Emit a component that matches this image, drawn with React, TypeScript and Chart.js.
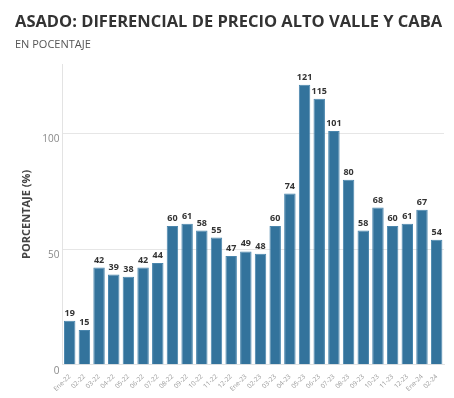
import React, { useEffect, useRef } from "react";
import { Chart, registerables } from "chart.js";

Chart.register(...registerables);

const categories = [
  "Ene-22", "02-22", "03-22", "04-22", "05-22", "06-22", "07-22", "08-22", "09-22", "10-22", "11-22", "12-22",
  "Ene-23", "02-23", "03-23", "04-23", "05-23", "06-23", "07-23", "08-23", "09-23", "10-23", "11-23", "12-23",
  "Ene-24", "02-24",
];
const values = [19, 15, 42, 39, 38, 42, 44, 60, 61, 58, 55, 47, 49, 48, 60, 74, 121, 115, 101, 80, 58, 68, 60, 61, 67, 54];
const yTicks = [0, 50, 100];

const FONT = "'Open Sans', 'Noto Sans', sans-serif";

const valueLabels = {
  id: "valueLabels",
  afterDatasetsDraw(chart: any) {
    const ctx = chart.ctx;
    const meta = chart.getDatasetMeta(0);
    ctx.save();
    ctx.font = `bold 9px ${FONT}`;
    ctx.fillStyle = "#333333";
    ctx.textAlign = "center";
    ctx.textBaseline = "bottom";
    meta.data.forEach((el: any, i: number) => {
      ctx.fillText(String(values[i]), el.x, el.y - 3);
    });
    ctx.restore();
  },
};

export default function App() {
  const ref = useRef<HTMLCanvasElement>(null);
  useEffect(() => {
    document.body.style.margin = "0";
    const chart = new Chart(ref.current!, {
      type: "bar",
      data: {
        labels: categories,
        datasets: [
          {
            data: values,
            backgroundColor: "#33739c",
            borderColor: "#4a86ad",
            borderWidth: 1,
            categoryPercentage: 0.78,
            barPercentage: 1,
          },
        ],
      },
      options: {
        animation: false,
        responsive: false,
        maintainAspectRatio: false,
        layout: { padding: { left: 15, right: 10, top: 0, bottom: 5 } },
        plugins: {
          legend: { display: false },
          tooltip: { enabled: false },
          title: {
            display: true,
            text: "ASADO: DIFERENCIAL DE PRECIO ALTO VALLE Y CABA",
            align: "start",
            color: "#333333",
            font: { family: FONT, size: 16.5, weight: "bold" },
            padding: { top: 12, bottom: 6 },
          },
          subtitle: {
            display: true,
            text: "EN POCENTAJE",
            align: "start",
            color: "#555555",
            font: { family: FONT, size: 11 },
            padding: { top: 0, bottom: 13 },
          },
        },
        scales: {
          x: {
            grid: { display: false },
            border: { display: true, color: "#e3e3e3" },
            ticks: {
              color: "#999999",
              font: { family: FONT, size: 6.5 },
              maxRotation: 45,
              minRotation: 45,
              autoSkip: false,
              padding: 0,
            },
          },
          y: {
            min: 0,
            max: 130,
            afterBuildTicks: (axis: any) => {
              axis.ticks = yTicks.map((v) => ({ value: v }));
            },
            grid: { color: "#e6e6e6", drawTicks: false },
            border: { display: true, color: "#e3e3e3" },
            ticks: {
              color: "#888888",
              font: { family: FONT, size: 10 },
              padding: 3,
              labelOffset: 6,
            },
            title: {
              display: true,
              text: "PORCENTAJE (%)",
              color: "#444444",
              font: { family: FONT, size: 11, weight: "bold" },
              padding: { top: 5, bottom: 6 },
            },
          },
        },
      },
      plugins: [valueLabels],
    });
    return () => chart.destroy();
  }, []);
  return (
    <div style={{ width: 454, height: 398 }}>
      <canvas ref={ref} width={454} height={398} />
    </div>
  );
}
